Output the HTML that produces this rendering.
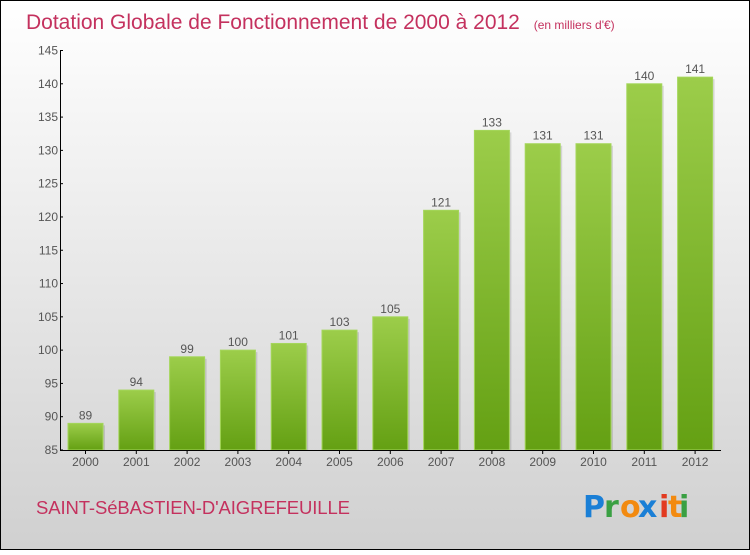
<!DOCTYPE html>
<html><head><meta charset="utf-8"><style>
html,body{margin:0;padding:0}
body{width:750px;height:550px;overflow:hidden;font-family:"Liberation Sans",sans-serif}
</style></head><body>
<svg id="chart" width="750" height="550" xmlns="http://www.w3.org/2000/svg">
<defs>
<linearGradient id="bg" x1="0" y1="0" x2="0" y2="1"><stop offset="0" stop-color="#ffffff"/><stop offset="1" stop-color="#d0d0d0"/></linearGradient>
<linearGradient id="bar" x1="0" y1="0" x2="0" y2="1"><stop offset="0" stop-color="#9ccd4a"/><stop offset="1" stop-color="#64a013"/></linearGradient>
</defs>
<rect x="0.5" y="0.5" width="749" height="549" fill="url(#bg)" stroke="#000"/>
<text x="26" y="29" font-size="21" fill="#c4315e">Dotation Globale de Fonctionnement de 2000 à 2012 <tspan font-size="12" dx="8">(en milliers d'€)</tspan></text>
<g id="bars"></g>
<g id="axes"></g>
<text x="36" y="514" font-size="18.5" fill="#c4315e" textLength="314">SAINT-SéBASTIEN-D'AIGREFEUILLE</text>
<g font-size="30" font-family="'DejaVu Sans',sans-serif" font-weight="bold">
<text x="583" y="517" fill="#1a7fd6">P</text><text x="604" y="517" fill="#3aa043">r</text><text x="620" y="517" fill="#f28a10">o</text><text x="638" y="517" fill="#1a7fd6">x</text><text x="659" y="517" fill="#e23a20">i</text><text x="668" y="517" fill="#f28a10">t</text><text x="679" y="517" fill="#3aa043">i</text>
</g>
</svg>
<script>
const years=["2000","2001","2002","2003","2004","2005","2006","2007","2008","2009","2010","2011","2012"];
const values=[89,94,99,100,101,103,105,121,133,131,131,140,141];
const yTicks=[85,90,95,100,105,110,115,120,125,130,135,140,145];
const NS="http://www.w3.org/2000/svg";
const x0=60,x1=721,yBase=450,yTop=50.5,vMin=85,vMax=145;
const step=50.8,first=85.5,bw=35;
function xc(i){return first+i*step;}
function y(v){return yBase-(v-vMin)/(vMax-vMin)*(yBase-yTop);}
function mk(tag,attrs,parent){const e=document.createElementNS(NS,tag);for(const k in attrs)e.setAttribute(k,attrs[k]);parent.appendChild(e);return e;}
const gb=document.getElementById('bars'),ga=document.getElementById('axes');
values.forEach((v,i)=>{
  const sh=mk('rect',{x:xc(i)-bw/2+2,y:y(v)+2,width:bw,height:yBase-y(v)-2,fill:'#000',opacity:0.12},gb);
  
  
  const r=mk('rect',{x:xc(i)-bw/2,y:y(v),width:bw,height:yBase-y(v),fill:'url(#bar)',stroke:'#a4d65a','stroke-width':1},gb);
  
  
  const t=mk('text',{x:xc(i),y:y(v)-4,'text-anchor':'middle','font-size':12,fill:'#555'},gb);
  t.textContent=v;
  
  
  const xl=mk('text',{x:xc(i),y:yBase+16,'text-anchor':'middle','font-size':12,fill:'#555'},ga);
  xl.textContent=years[i];
  
  
  const tk=mk('line',{x1:xc(i),x2:xc(i),y1:yBase,y2:yBase+4,stroke:'#000'},ga);
  
  
});
yTicks.forEach(v=>{
  const l=mk('line',{x1:x0,x2:x0+3,y1:y(v),y2:y(v),stroke:'#000'},ga);
  
  
  const t=mk('text',{x:x0-2,y:y(v)+4,'text-anchor':'end','font-size':12,fill:'#555'},ga);
  t.textContent=v;
  
  
});
const ya=mk('line',{x1:x0+0.5,x2:x0+0.5,y1:yTop,y2:yBase,stroke:'#000'},ga);


const xa=mk('line',{x1:x0,x2:x1,y1:yBase+0.5,y2:yBase+0.5,stroke:'#000'},ga);


</script>
</body></html>
